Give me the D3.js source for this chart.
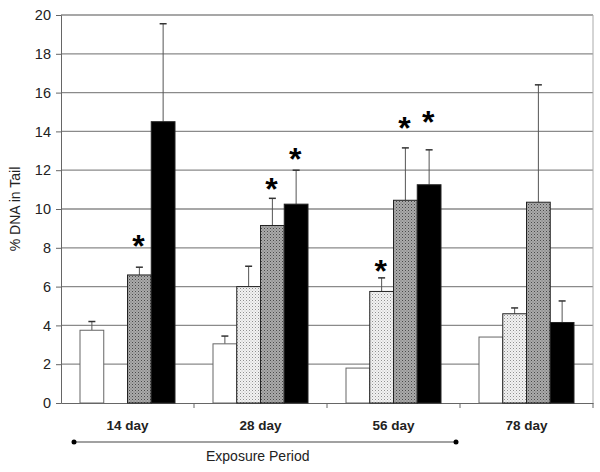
<!DOCTYPE html>
<html>
<head>
<meta charset="utf-8">
<script src="https://cdn.jsdelivr.net/npm/d3@7"></script>
<style>
body { margin: 0; background: #fff; }
text { font-family: Arial, "Liberation Sans", sans-serif; }
</style>
</head>
<body>
<script>
var width = 600;
var height = 472;

// data
var periods = ["14 day", "28 day", "56 day", "78 day"];
var groups = ["control", "low", "mid", "high"];
var whiteVals = [3.75, 3.05, 1.8, 3.4];
var lightVals = [null, 6.0, 5.75, 4.6];
var greyVals = [6.6, 9.15, 10.45, 10.35];
var blackVals = [14.5, 10.25, 11.25, 4.15];
// top of error bars
var whiteErr = [4.2, 3.45, null, null];
var lightErr = [null, 7.05, 6.45, 4.9];
var greyErr = [7.0, 10.55, 13.15, 16.4];
var blackErr = [19.55, 12.0, 13.05, 5.26];
// significance stars (height of the star, null = none)
var whiteStar = [null, null, null, null];
var lightStar = [null, null, 7.15, null];
var greyStar = [8.45, 11.4, 14.55, null];
var blackStar = [null, 12.95, 14.85, null];
var yTicks = [0, 2, 4, 6, 8, 10, 12, 14, 16, 18, 20];

var margin = {left: 61, right: 7, top: 15, bottom: 69};

var svg = d3.select("body").append("svg")
    .attr("width", width)
    .attr("height", height);

var defs = svg.append("defs");

// light speckle fill
var pl = defs.append("pattern").attr("id", "light")
    .attr("patternUnits", "userSpaceOnUse").attr("width", 3).attr("height", 3);
pl.append("rect").attr("width", 3).attr("height", 3).attr("fill", "#f2f2f2");
pl.append("rect").attr("x", 0).attr("y", 0).attr("width", 1).attr("height", 1).attr("fill", "#909090");
pl.append("rect").attr("x", 1.5).attr("y", 1.5).attr("width", 1).attr("height", 1).attr("fill", "#bdbdbd");

// darker speckle fill
var pd = defs.append("pattern").attr("id", "dark")
    .attr("patternUnits", "userSpaceOnUse").attr("width", 3).attr("height", 3);
pd.append("rect").attr("width", 3).attr("height", 3).attr("fill", "#aaa");
pd.append("rect").attr("x", 0).attr("y", 0).attr("width", 1).attr("height", 1).attr("fill", "#4a4a4a");
pd.append("rect").attr("x", 1.5).attr("y", 1.5).attr("width", 1).attr("height", 1).attr("fill", "#707070");

var x0 = d3.scaleBand()
    .domain(periods)
    .range([margin.left, width - margin.right]);

var x1 = d3.scaleBand()
    .domain(groups)
    .range([0, x0.bandwidth()])
    .paddingOuter(0.8)
    .paddingInner(0);

var y = d3.scaleLinear()
    .domain([0, 20])
    .range([height - margin.bottom, margin.top]);

// grid
svg.append("g").selectAll("line")
    .data(yTicks.slice(1))
    .enter().append("line")
    .attr("x1", margin.left).attr("x2", width - margin.right)
    .attr("y1", function(d) { return y(d); })
    .attr("y2", function(d) { return y(d); })
    .attr("stroke", "#8a8a8a").attr("stroke-width", 1.3);

// right border
svg.append("line")
    .attr("x1", width - margin.right).attr("x2", width - margin.right)
    .attr("y1", y(20)).attr("y2", y(0))
    .attr("stroke", "#aaa");

// y axis
var yAxis = svg.append("g")
    .attr("transform", "translate(" + margin.left + ",0)")
    .call(d3.axisLeft(y).tickValues(yTicks).tickSize(5).tickPadding(5));
yAxis.select(".domain").attr("stroke", "#666");
yAxis.selectAll(".tick line").attr("stroke", "#666");
yAxis.selectAll("text").attr("font-size", 14.5).attr("fill", "#222");

// x axis
var xAxis = svg.append("g")
    .attr("transform", "translate(0," + y(0) + ")")
    .call(d3.axisBottom(x0).tickSize(0).tickPadding(17));
xAxis.select(".domain").attr("stroke", "#666");
xAxis.selectAll("text").attr("font-size", 13.5).attr("font-weight", "bold").attr("fill", "#222");
// tick marks between groups
svg.append("g").selectAll("line")
    .data(periods)
    .enter().append("line")
    .attr("x1", function(d) { return x0(d) + x0.bandwidth(); })
    .attr("x2", function(d) { return x0(d) + x0.bandwidth(); })
    .attr("y1", y(0)).attr("y2", y(0) + 5)
    .attr("stroke", "#666");

var series = [
    {key: "control", vals: whiteVals, err: whiteErr, star: whiteStar, fill: "#fff"},
    {key: "low", vals: lightVals, err: lightErr, star: lightStar, fill: "url(#light)"},
    {key: "mid", vals: greyVals, err: greyErr, star: greyStar, fill: "url(#dark)"},
    {key: "high", vals: blackVals, err: blackErr, star: blackStar, fill: "#000"}
];

var starSize = 32;

series.forEach(function(s) {
    var g = svg.append("g");
    periods.forEach(function(p, i) {
        var v = s.vals[i];
        if (v == null) return;
        var bx = x0(p) + x1(s.key);
        var cx = bx + x1.bandwidth() / 2;
        var e = s.err[i];
        if (e != null) {
            g.append("line")
                .attr("x1", cx).attr("x2", cx)
                .attr("y1", y(v)).attr("y2", y(e))
                .attr("stroke", "#555");
            g.append("line")
                .attr("x1", cx - 3.5).attr("x2", cx + 3.5)
                .attr("y1", y(e)).attr("y2", y(e))
                .attr("stroke", "#333").attr("stroke-width", 1.5);
        }
        g.append("rect")
            .attr("x", bx).attr("width", x1.bandwidth())
            .attr("y", y(v)).attr("height", y(0) - y(v))
            .attr("fill", s.fill)
            .attr("stroke", s.key == "control" ? "#666" : "#222")
            .attr("stroke-width", 1);
        if (s.star[i] != null) {
            g.append("text")
                .attr("x", cx - 1)
                .attr("y", y(s.star[i]) + starSize * 0.56)
                .attr("text-anchor", "middle")
                .attr("font-size", starSize)
                .attr("font-weight", "bold")
                .text("*");
        }
    });
});

// y label
svg.append("text")
    .attr("transform", "translate(20," + y(10) + ") rotate(-90)")
    .attr("text-anchor", "middle")
    .attr("font-size", 14)
    .attr("fill", "#222")
    .text("% DNA in Tail");

// exposure period bracket
var bx1 = x0("14 day") + x1("control") - 6;
var bx2 = x0("56 day") + x1("high") + x1.bandwidth() + 15;
svg.append("line")
    .attr("x1", bx1).attr("x2", bx2)
    .attr("y1", 442).attr("y2", 442)
    .attr("stroke", "#444").attr("stroke-width", 1.2);
svg.append("circle").attr("cx", bx1).attr("cy", 442).attr("r", 2.5).attr("fill", "#000");
svg.append("circle").attr("cx", bx2).attr("cy", 442).attr("r", 2.5).attr("fill", "#000");
svg.append("text")
    .attr("x", 206).attr("y", 461)
    .attr("font-size", 14)
    .attr("fill", "#222")
    .text("Exposure Period");
</script>
</body>
</html>
